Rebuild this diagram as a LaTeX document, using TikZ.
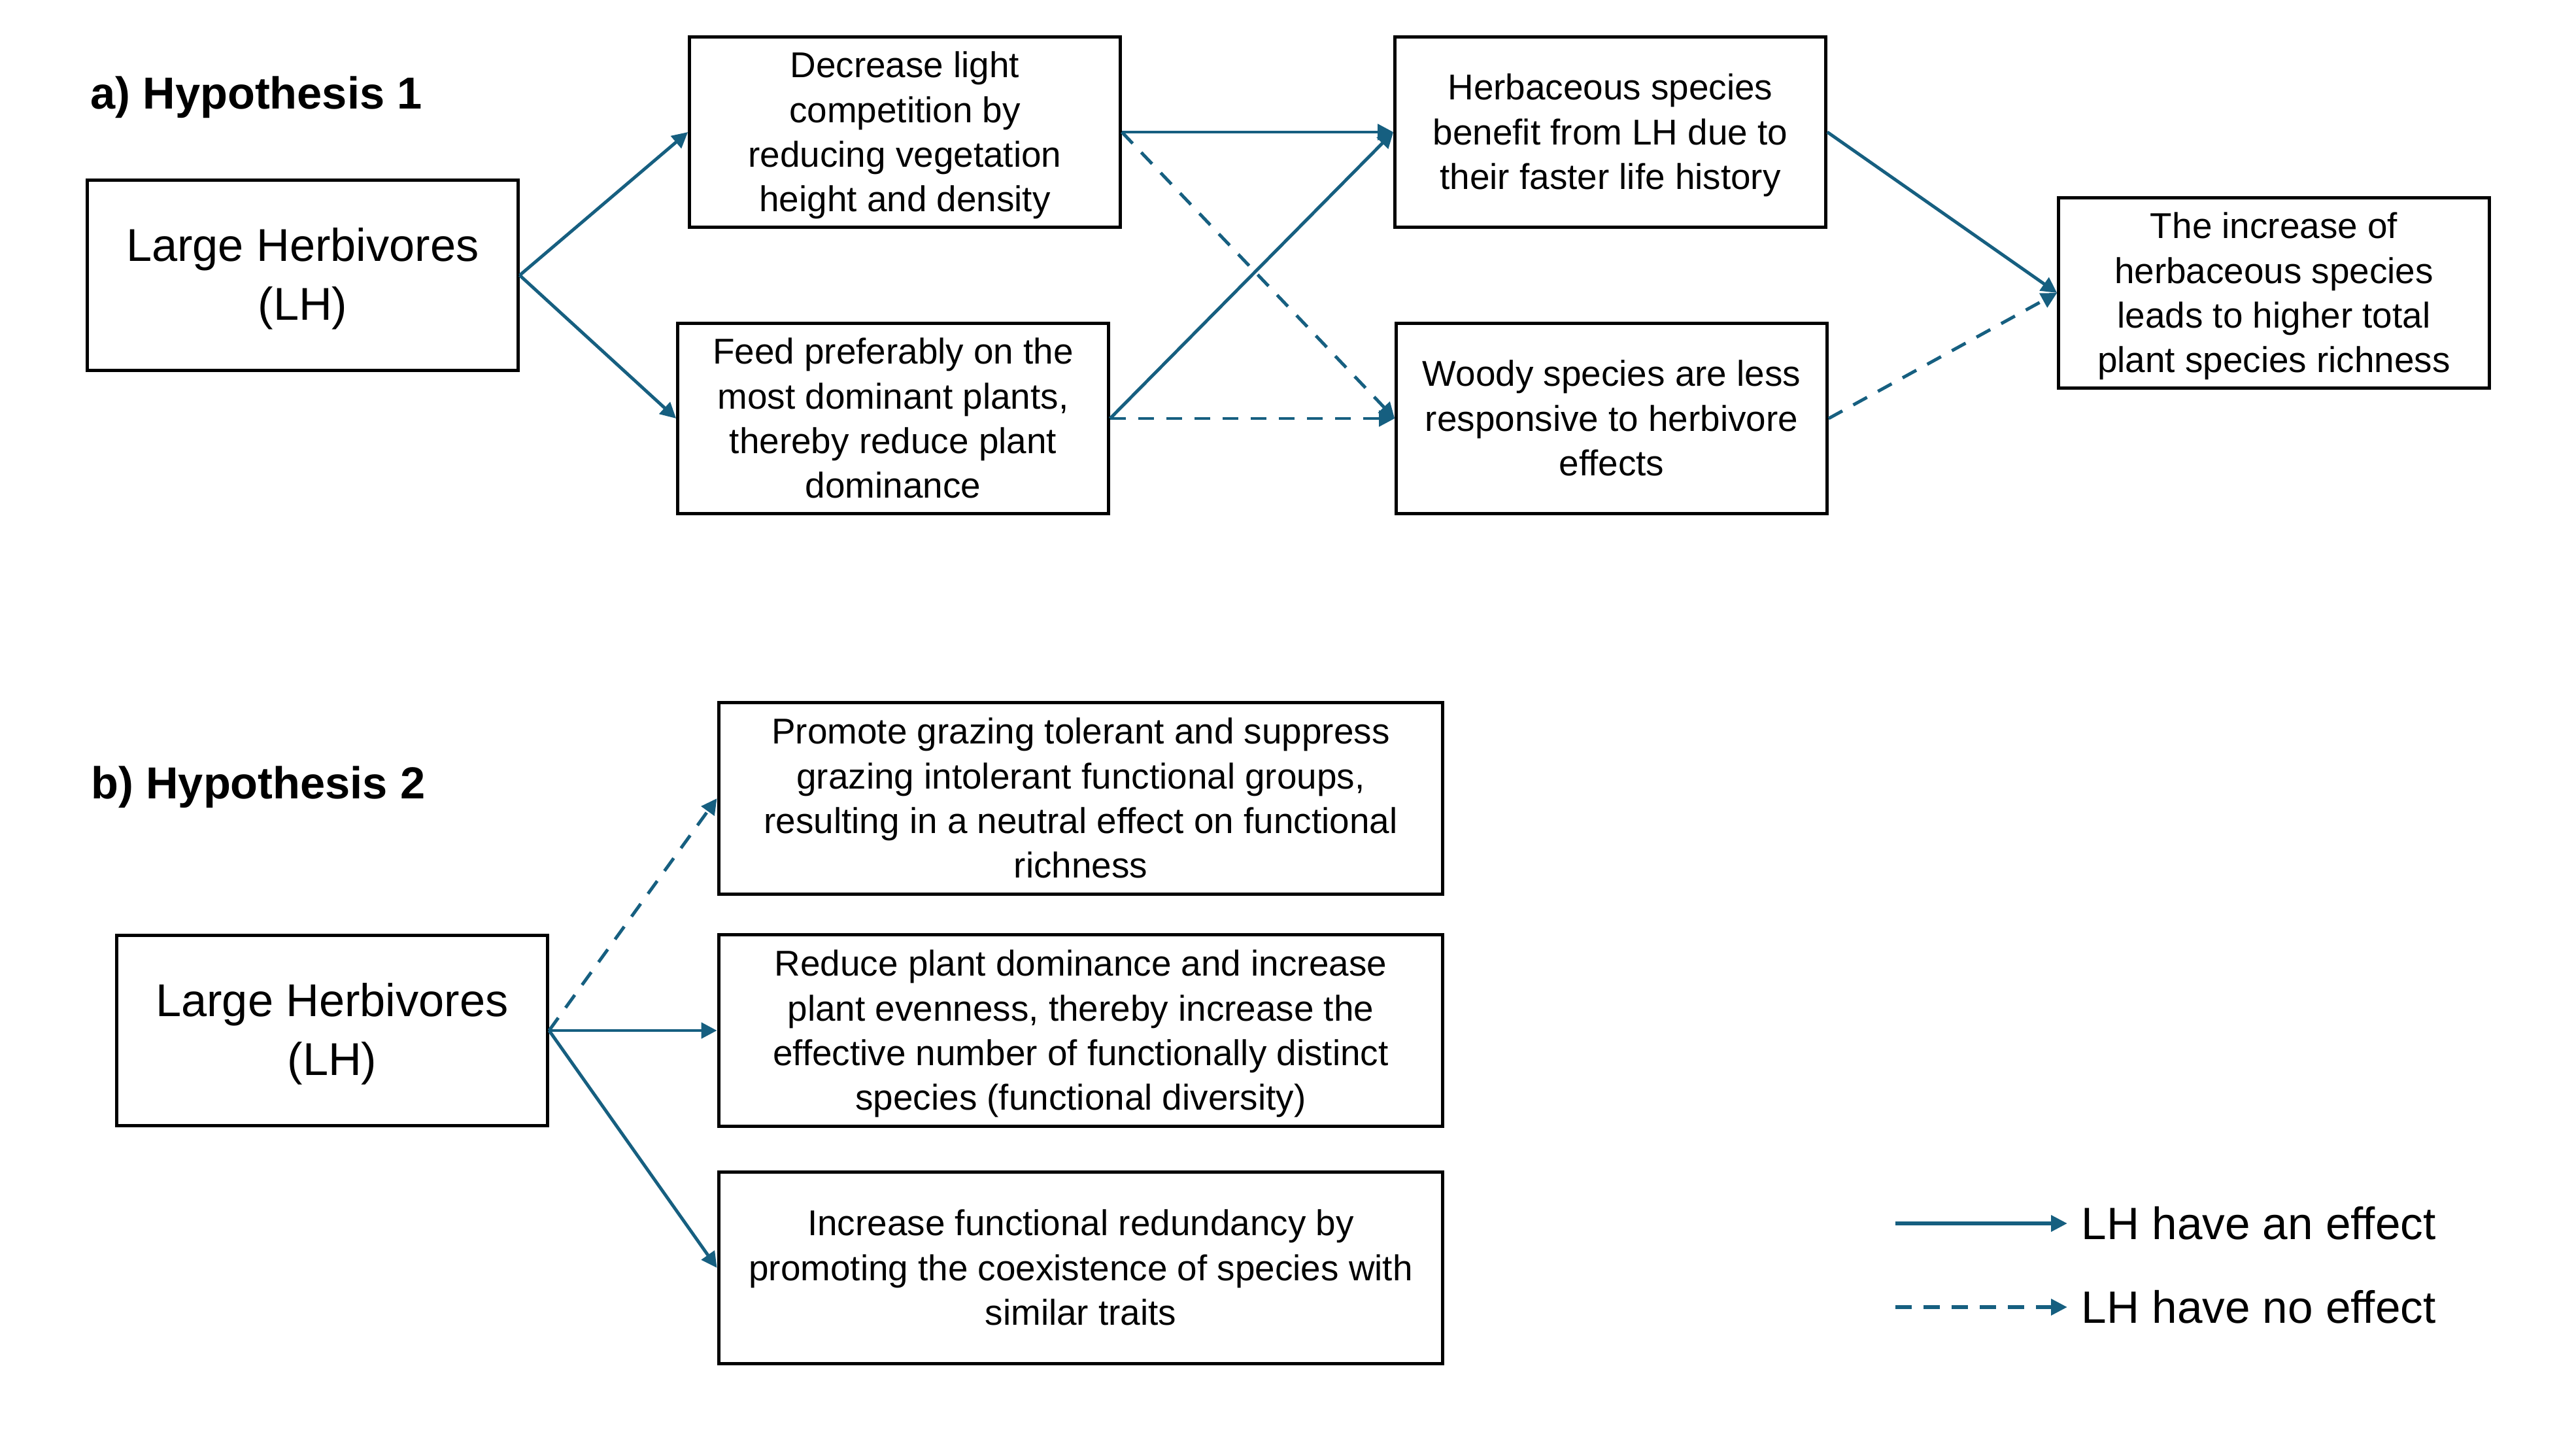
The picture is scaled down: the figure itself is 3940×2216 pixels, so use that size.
\documentclass[tikz,border=0pt]{standalone}
\usepackage{fontspec}
\setmainfont{Liberation Sans}
\usetikzlibrary{arrows.meta}
\definecolor{arr}{RGB}{22,95,128}
\newcommand\bxt[1]{\raisebox{-0.055cm}[\height][\depth]{\begin{tabular}{@{}c@{}}#1\end{tabular}}}
\begin{document}
\begin{tikzpicture}[x=0.01cm,y=-0.01cm,
  box/.style={draw=black,line width=1.5pt,minimum width=6.58cm,minimum height=2.91cm,inner sep=0pt,align=center,font=\fontsize{15.6}{19.4}\selectfont},
  bigbox/.style={box,font=\fontsize{20}{25.6}\selectfont},
  widebox/.style={box,minimum width=11.07cm,minimum height=2.93cm},
  eff/.style={draw=arr,line width=1.4pt,-{Triangle[length=0.24cm,width=0.24cm]}},
  noeff/.style={eff,dash pattern=on 0.24cm off 0.19cm},
  legeff/.style={draw=arr,line width=1.9pt,-{Triangle[length=0.25cm,width=0.24cm]}},
  legnoeff/.style={legeff,dash pattern=on 0.25cm off 0.18cm},
  title/.style={font=\fontsize{19.5}{23}\selectfont\bfseries,anchor=west,inner sep=0pt},
  legtext/.style={font=\fontsize{19.7}{24}\selectfont,anchor=west,inner sep=0pt}]

\path[use as bounding box] (0,0) rectangle (3940,2216);

% ---- a) Hypothesis 1
\node[title] (ta) at (138,149) {a) Hypothesis 1};
\node[bigbox] (lha) at (463,421) {\bxt{Large Herbivores\\(LH)}};
\node[box] (dec) at (1384,202) {\bxt{Decrease light\\competition by\\reducing vegetation\\height and density}};
\node[box] (feed) at (1366,640) {\bxt{Feed preferably on the\\most dominant plants,\\thereby reduce plant\\dominance}};
\node[box] (herb) at (2463,202) {\bxt{Herbaceous species\\benefit from LH due to\\their faster life history}};
\node[box] (woody) at (2465,640) {\bxt{Woody species are less\\responsive to herbivore\\effects}};
\node[box] (incr) at (3478,448) {\bxt{The increase of\\herbaceous species\\leads to higher total\\plant species richness}};

\draw[eff] (lha.east) -- (dec.west);
\draw[eff] (lha.east) -- (feed.west);
\draw[eff] (dec.east) -- (herb.west);
\draw[noeff] (dec.east) -- (woody.west);
\draw[eff] (feed.east) -- (herb.west);
\draw[noeff] (feed.east) -- (woody.west);
\draw[eff] (herb.east) -- (incr.west);
\draw[noeff] (woody.east) -- (incr.west);

% ---- b) Hypothesis 2
\node[title] (tb) at (139,1204) {b) Hypothesis 2};
\node[bigbox] (lhb) at (508,1576) {\bxt{Large Herbivores\\(LH)}};
\node[widebox] (prom) at (1653,1221) {\bxt{Promote grazing tolerant and suppress\\grazing intolerant functional groups,\\resulting in a neutral effect on functional\\richness}};
\node[widebox] (red) at (1653,1576) {\bxt{Reduce plant dominance and increase\\plant evenness, thereby increase the\\effective number of functionally distinct\\species (functional diversity)}};
\node[widebox] (incf) at (1653,1939) {\bxt{Increase functional redundancy by\\promoting the coexistence of species with\\similar traits}};

\draw[noeff] (lhb.east) -- (prom.west);
\draw[eff] (lhb.east) -- (red.west);
\draw[eff] (lhb.east) -- (incf.west);

% ---- legend
\coordinate (s1) at (2899,1871);
\coordinate (e1) at (3162,1871);
\coordinate (s2) at (2899,1999);
\coordinate (e2) at (3162,1999);
\draw[legeff] (s1) -- (e1);
\draw[legnoeff] (s2) -- (e2);
\node[legtext] (l1) at (3183,1871) {LH have an effect};
\node[legtext] (l2) at (3183,1999) {LH have no effect};
\end{tikzpicture}
\end{document}
